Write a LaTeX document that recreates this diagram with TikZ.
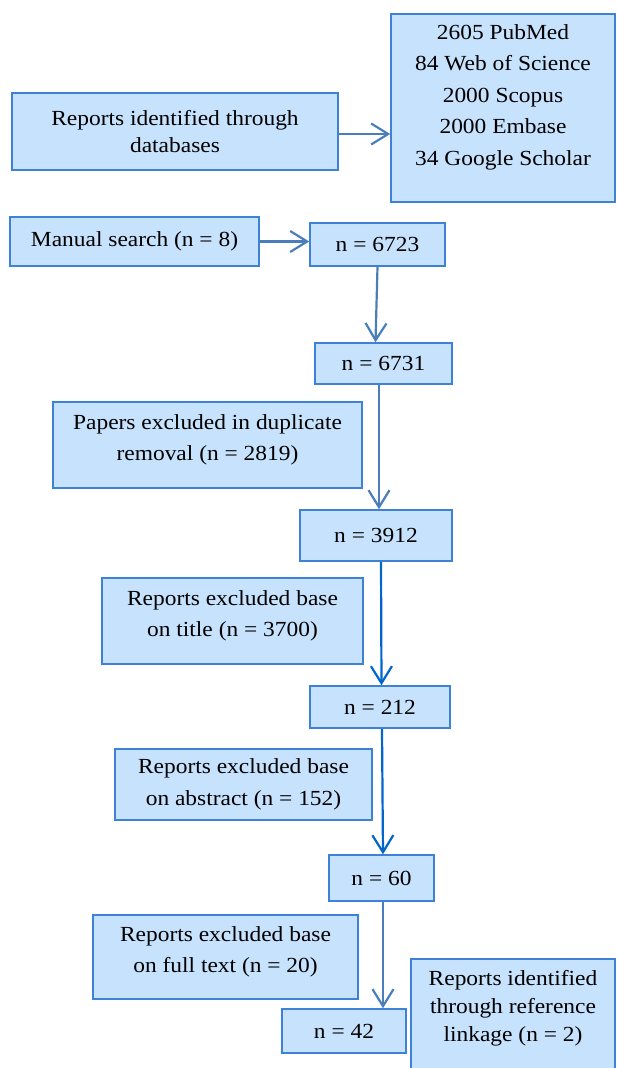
\documentclass[tikz,border=0pt]{standalone}
\usepackage{fontspec}
\setmainfont{Liberation Serif}[FakeStretch=1.09]
\usetikzlibrary{arrows.meta}
\definecolor{boxfill}{RGB}{199,226,252}
\definecolor{boxline}{RGB}{62,130,214}
\definecolor{arrsteel}{RGB}{74,126,187}
\definecolor{arrblue}{RGB}{0,102,204}

\begin{document}
\begin{tikzpicture}[x=1pt, y=-1pt,
  >={Straight Barb[length=17pt, width=21pt]},
  font=\fontsize{21.5}{31.5}\selectfont,
  box/.style={draw=boxline, fill=boxfill, line width=1.5pt, inner sep=0pt, align=center},
  flow/.style={->, line width=2.2pt, arrsteel},
  flowb/.style={->, line width=2.2pt, arrblue}]
  \useasboundingbox (0,0) rectangle (616,1068);
  % identification
  \node[box, minimum width=326pt, minimum height=77pt, font=\fontsize{21.5}{27.5}\selectfont] (ident) at (175,131.5) {Reports identified through\\databases};
  \node[box, minimum width=224pt, minimum height=188pt] (dbs) at (503,108) {2605 PubMed\\84 Web of Science\\2000 Scopus\\2000 Embase\\34 Google Scholar\\[-5.5pt]\mbox{}};
  \node[box, minimum width=249pt, minimum height=49pt] (manual) at (134.5,241.5) {Manual search (n = 8)};
  \node[box, minimum width=135pt, minimum height=43pt] (n6723) at (377.5,244.5) {n = 6723};
  \node[box, minimum width=137pt, minimum height=41pt] (n6731) at (383.5,363.5) {n = 6731};
  % screening
  \node[box, minimum width=309pt, minimum height=86pt] (dupl) at (207.5,445) {Papers excluded in duplicate\\removal (n = 2819)\\[-16.5pt]\mbox{}};
  \node[box, minimum width=152pt, minimum height=51pt] (n3912) at (376,535.5) {n = 3912};
  \node[box, minimum width=261pt, minimum height=86pt] (title) at (232.5,621) {Reports excluded base\\on title (n = 3700)\\[-16.5pt]\mbox{}};
  \node[box, minimum width=140pt, minimum height=42pt] (n212) at (380,707) {n = 212};
  \node[box, minimum width=257pt, minimum height=71pt] (abstr) at (243.5,784.5) {Reports excluded base\\on abstract (n = 152)};
  \node[box, minimum width=105pt, minimum height=46pt] (n60) at (381.5,878) {n = 60};
  % eligibility
  \node[box, minimum width=265pt, minimum height=84pt] (full) at (225.5,957) {Reports excluded base\\on full text (n = 20)\\[-16.5pt]\mbox{}};
  \node[box, minimum width=124pt, minimum height=44pt] (n42) at (344,1031) {n = 42};
  \node[box, minimum width=204pt, minimum height=112pt, font=\fontsize{21.5}{28}\selectfont] (refs) at (513,1015) {Reports identified\\through reference\\linkage (n = 2)\\[-10pt]\mbox{}};
  % arrows
  \draw[flow] ([yshift=-2.5pt]ident.east) -- ([yshift=-2.5pt]ident.east -| dbs.west);
  \draw[flow] (manual.east) -- (manual.east -| n6723.west);
  \draw[flow] (n6723.south) -- ([xshift=-8pt]n6731.north);
  \draw[flow] ([xshift=-4.5pt]n6731.south) -- ([xshift=3pt]n3912.north);
  \draw[flowb] ([xshift=5pt]n3912.south) -- ([xshift=1.5pt]n212.north);
  \draw[flowb] ([xshift=2pt]n212.south) -- ([xshift=1.5pt]n60.north);
  \draw[flow] ([xshift=1.5pt]n60.south) -- ([xshift=1.5pt]n60.south |- n42.north);
\end{tikzpicture}
\end{document}
